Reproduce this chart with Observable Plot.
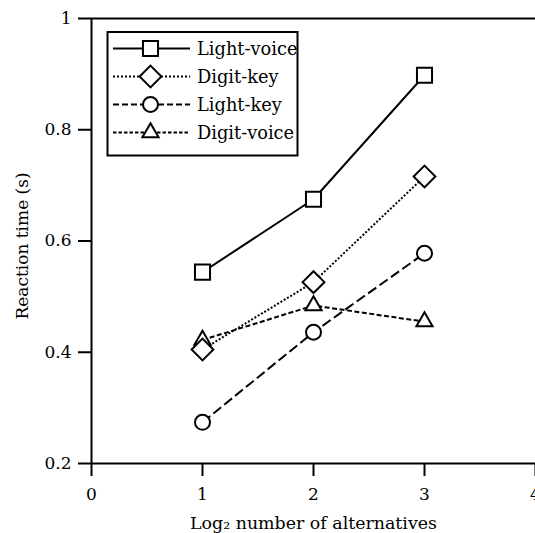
<!DOCTYPE html>
<html><head><meta charset="utf-8">
<script src="https://cdn.jsdelivr.net/npm/d3@7"></script>
<script src="https://cdn.jsdelivr.net/npm/@observablehq/plot@0.6"></script>
<style>
html,body{margin:0;padding:0;background:#fff;overflow:hidden}
</style>
</head><body><div id="chart"></div>
<script>
// ---- data ----
const alternatives = [1, 2, 3];
const seriesNames = ["Light-voice", "Digit-key", "Light-key", "Digit-voice"];
const lightVoice = [0.544, 0.675, 0.898];
const digitKey = [0.405, 0.526, 0.716];
const lightKey = [0.274, 0.436, 0.578];
const digitVoice = [0.422, 0.484, 0.455];
const xTicks = [0, 1, 2, 3, 4];
const yTicks = [0.2, 0.4, 0.6, 0.8, 1];
const yTickLabels = ["0.2", "0.4", "0.6", "0.8", "1"];
const xTitle = "Log\u2082 number of alternatives";
const yTitle = "Reaction time (s)";

const seriesValues = {"Light-voice": lightVoice, "Digit-key": digitKey, "Light-key": lightKey, "Digit-voice": digitVoice};

// ---- styles ----
const styles = {
  "Light-voice": {symbol: "square", r: 8.5, dash: null, legendDash: null},
  "Digit-key": {symbol: "diamond2", r: 9.8, dash: "2,1.8", legendDash: "2,2"},
  "Light-key": {symbol: "circle", r: 7.5, dash: "10,4", legendDash: "6,3"},
  "Digit-voice": {symbol: "triangle", r: 6, dash: "5,2.5", legendDash: "3.5,2"}
};
const dotOrder = ["Light-voice", "Light-key", "Digit-voice", "Digit-key"];

const rows = seriesNames.flatMap(s => alternatives.map((x, i) => ({series: s, x, y: seriesValues[s][i]})));

const marks = [
  Plot.ruleY([1], {strokeWidth: 2, stroke: "black"}),
  Plot.ruleY([0.2], {strokeWidth: 2, stroke: "black"}),
  Plot.ruleX([0], {strokeWidth: 2, stroke: "black"}),
  Plot.axisX({ticks: xTicks, tickSize: 13, tickPadding: 11, strokeWidth: 2, label: null, tickFormat: d => String(d)}),
  Plot.axisY({ticks: yTicks, tickSize: 13, tickPadding: 7, strokeWidth: 2, label: null,
    tickFormat: d => yTickLabels[yTicks.indexOf(d)]}),
  Plot.text([yTitle], {frameAnchor: "left", dx: -69, dy: 5, rotate: -90, fontSize: 17, textAnchor: "middle", lineAnchor: "middle"}),
  Plot.text([xTitle], {frameAnchor: "bottom", dy: 60, fontSize: 17.4, textAnchor: "middle", lineAnchor: "middle"})
];
for (const s of seriesNames) {
  marks.push(Plot.line(rows.filter(d => d.series === s), {x: "x", y: "y", stroke: "black", strokeWidth: 2,
    strokeDasharray: styles[s].dash, strokeLinecap: "butt", strokeLinejoin: "miter"}));
}
for (const s of dotOrder) {
  const st = styles[s];
  marks.push(Plot.dot(rows.filter(d => d.series === s), {x: "x", y: "y", symbol: st.symbol, r: st.r, fill: "white", stroke: "black", strokeWidth: 2}));
}

const chart = Plot.plot({
  width: 535,
  height: 533,
  marginLeft: 91,
  marginRight: 0,
  marginTop: 18,
  marginBottom: 70,
  x: {domain: [0, 4]},
  y: {domain: [0.2, 1]},
  style: {fontFamily: "DejaVu Serif", fontSize: "17px", color: "black", background: "white", overflow: "visible"},
  marks
});
document.getElementById("chart").appendChild(chart);

// ---- legend ----
const svg = d3.select(chart);
const lg = svg.append("g").attr("font-family", "DejaVu Serif").attr("font-size", 17.8).attr("text-anchor", "start");
lg.append("rect").attr("x", 107.5).attr("y", 32).attr("width", 190).attr("height", 123.5)
  .attr("fill", "white").attr("stroke", "black").attr("stroke-width", 2);
const symMap = {square: d3.symbolSquare, diamond2: d3.symbolDiamond2, circle: d3.symbolCircle, triangle: d3.symbolTriangle};
seriesNames.forEach((s, i) => {
  const st = styles[s];
  const y = 48.5 + i * 28;
  lg.append("line").attr("x1", 113).attr("x2", 190).attr("y1", y).attr("y2", y)
    .attr("stroke", "black").attr("stroke-width", 2).attr("stroke-dasharray", st.legendDash);
  lg.append("path").attr("transform", `translate(150.5,${y})`)
    .attr("d", d3.symbol(symMap[st.symbol], st.r * st.r * Math.PI)())
    .attr("fill", "white").attr("stroke", "black").attr("stroke-width", 2);
  lg.append("text").attr("x", 197).attr("y", y).attr("dy", "0.35em").attr("text-anchor", "start").attr("fill", "black").text(s);
});
</script>
</body></html>
